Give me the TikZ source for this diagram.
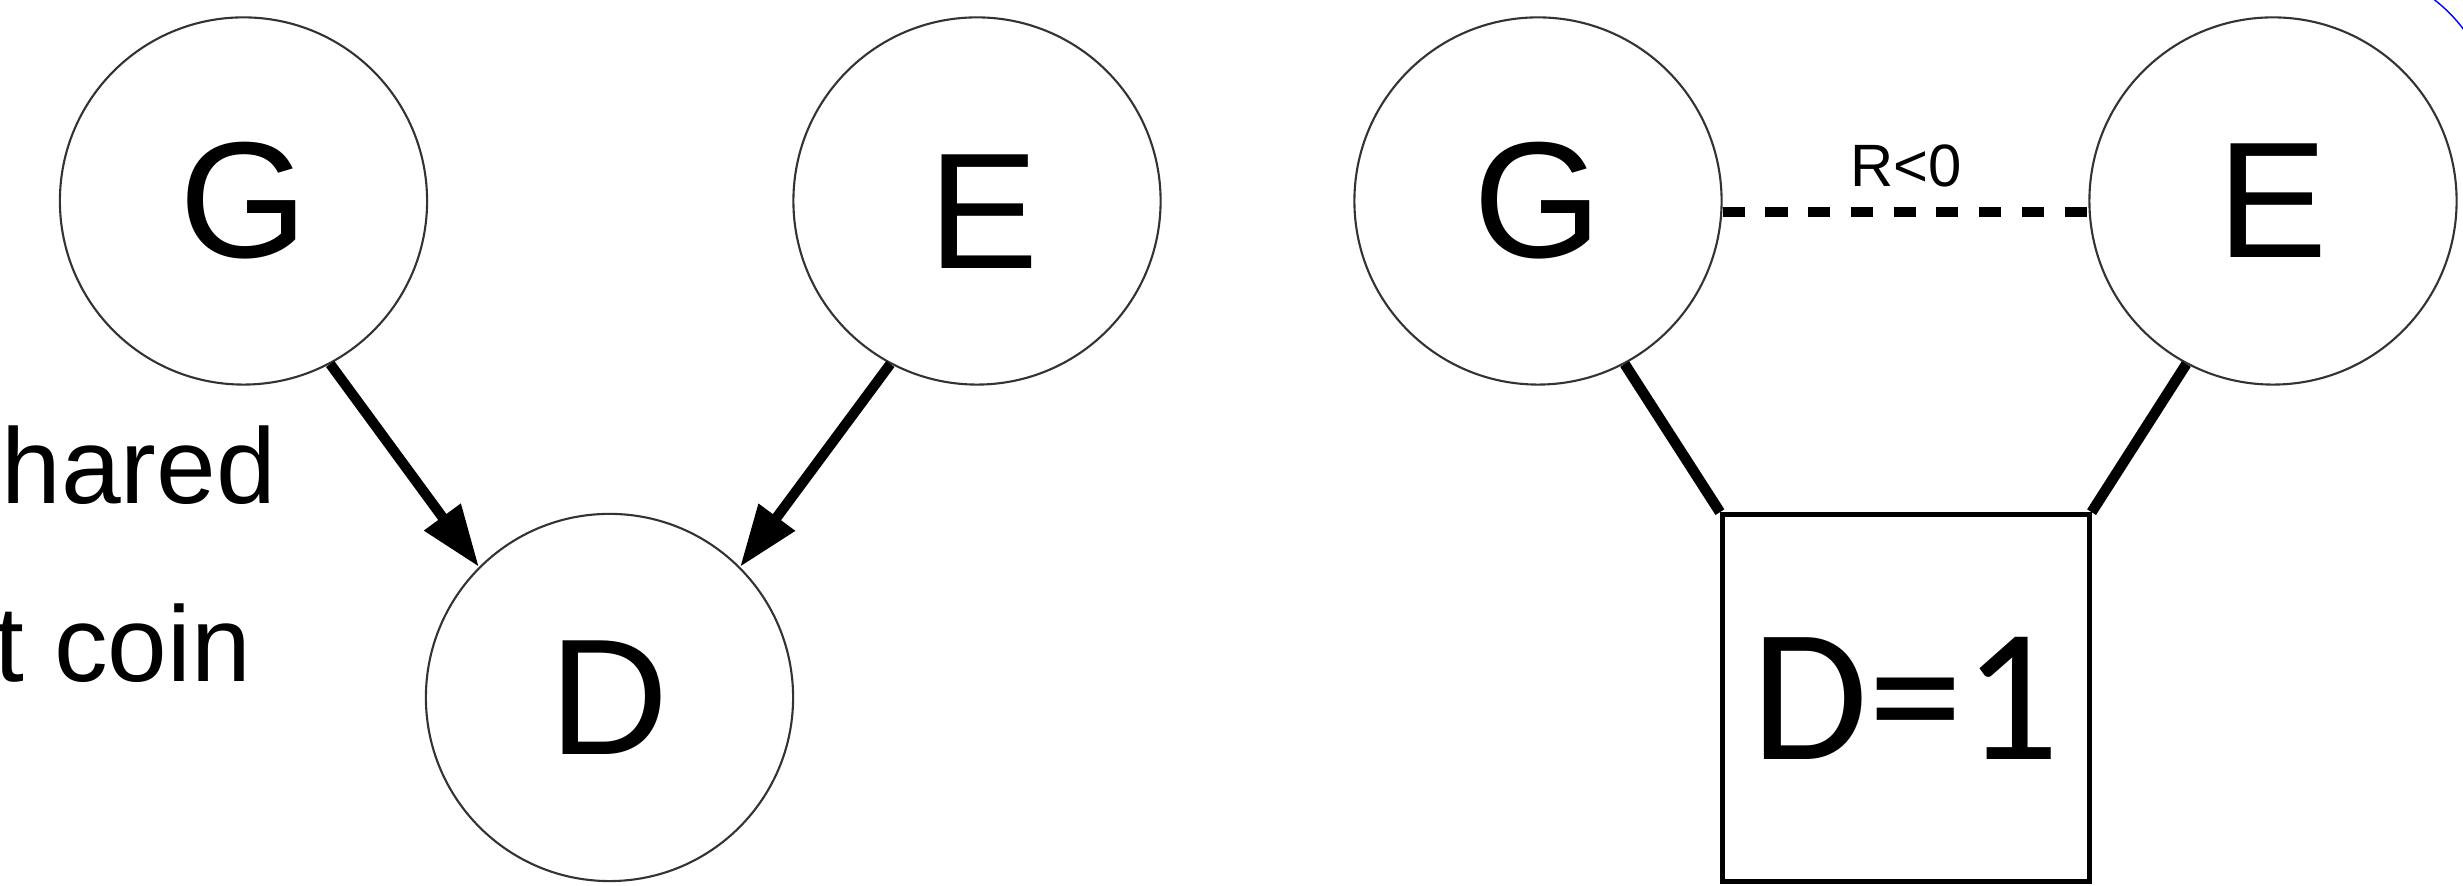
\documentclass[tikz,border=0pt]{standalone}
\usepackage{fontspec}
\setmainfont{Liberation Sans}
\newfontfamily\factorfont{Carlito}
\usetikzlibrary{arrows.meta}

\begin{document}
\begin{tikzpicture}[x=0.01cm,y=0.01cm,
  bubble/.style={circle, draw=black!80, line width=0.6pt, minimum size=3.67cm,
    inner sep=0pt, font=\fontsize{47}{56}\selectfont},
  letter/.style={inner sep=0pt, font=\fontsize{47}{56}\selectfont},
  factor/.style={rectangle, draw, line width=1.4pt, minimum size=3.665cm,
    inner sep=0pt, font=\factorfont\fontsize{54}{62}\selectfont},
  causal/.style={line width=2.9pt, -{Triangle[length=17.6pt,width=12.2pt]}},
  link/.style={line width=3pt},
  corr/.style={line width=2.85pt, dash pattern=on 6.3pt off 5.85pt},
  sidetext/.style={inner sep=0pt, anchor=base west, font=\fontsize{30.5}{36}\selectfont}]
\useasboundingbox (0,0) rectangle (2463,886);
\clip (0,0) rectangle (2463,886);

% left: directed graph G -> D <- E
\node[bubble] (G1) at (243.5,685) {G};
\node[bubble] (E1) at (977,685) {};
\node[letter] (E1t) at ([shift={(7,-11)}]E1.center) {E};
\node[bubble] (D1) at (609.5,188.5) {D};
\draw[causal] (G1.-62) -- (D1.135);
\draw[causal] (E1.-118) -- (D1.45);

% side text
\node[sidetext] (s1) at (1,382) {hared};
\node[sidetext] (s2) at (-6,204) {t coin};

% right: conditioning on D=1
\node[bubble] (G2) at (1538,685) {G};
\node[bubble] (E2) at (2273,685) {E};
\node[factor] (B) at (1905.75,188) {D=1};
\draw[link] (G2.-62) -- (B.north west);
\draw[link] (E2.-118) -- (B.north east);
\draw[corr] ([shift={(0,-11)}]G2.east) -- ([shift={(0,-11)}]E2.west);
\node[inner sep=0pt, anchor=base, font=\fontsize{17}{20}\selectfont] (R) at (1906,699) {R<0};

% partial arc at the corner
\draw[blue, line width=0.4pt] (2341,765) ++(58:153) arc[start angle=58, end angle=28, radius=1.53cm];
\end{tikzpicture}
\end{document}
